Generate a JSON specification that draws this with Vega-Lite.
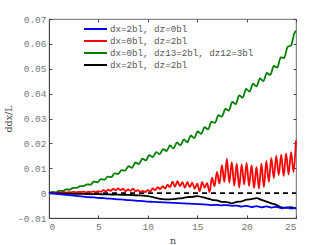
{
  "$schema": "https://vega.github.io/schema/vega-lite/v6.json",
  "width": 247,
  "height": 199,
  "autosize": {"type": "none"},
  "padding": {"left": 49, "top": 19, "right": 31, "bottom": 27},
  "background": "white",
  "config": {
    "view": {"stroke": "#444", "strokeWidth": 0.8},
    "axis": {
      "grid": false,
      "labelFont": "Liberation Mono",
      "labelFontSize": 9.5,
      "labelColor": "#777",
      "domainColor": "#444",
      "tickColor": "#444",
      "titleFont": "DejaVu Serif",
      "titleFontWeight": "normal",
      "titleFontSize": 9.5,
      "titleColor": "#444"
    }
  },
  "datasets": {
    "curves": [
      {"n": 0, "v": 0, "s": "dx=0bl, dz13=2bl, dz12=3bl"},
      {"n": 0.35, "v": 0.00046, "s": "dx=0bl, dz13=2bl, dz12=3bl"},
      {"n": 0.7, "v": 0.00033, "s": "dx=0bl, dz13=2bl, dz12=3bl"},
      {"n": 1.05, "v": 0.00099, "s": "dx=0bl, dz13=2bl, dz12=3bl"},
      {"n": 1.4, "v": 0.00085, "s": "dx=0bl, dz13=2bl, dz12=3bl"},
      {"n": 1.75, "v": 0.00151, "s": "dx=0bl, dz13=2bl, dz12=3bl"},
      {"n": 2.1, "v": 0.0014, "s": "dx=0bl, dz13=2bl, dz12=3bl"},
      {"n": 2.45, "v": 0.00215, "s": "dx=0bl, dz13=2bl, dz12=3bl"},
      {"n": 2.8, "v": 0.0021, "s": "dx=0bl, dz13=2bl, dz12=3bl"},
      {"n": 3.15, "v": 0.00285, "s": "dx=0bl, dz13=2bl, dz12=3bl"},
      {"n": 3.5, "v": 0.0028, "s": "dx=0bl, dz13=2bl, dz12=3bl"},
      {"n": 3.85, "v": 0.00355, "s": "dx=0bl, dz13=2bl, dz12=3bl"},
      {"n": 4.2, "v": 0.00338, "s": "dx=0bl, dz13=2bl, dz12=3bl"},
      {"n": 4.55, "v": 0.00467, "s": "dx=0bl, dz13=2bl, dz12=3bl"},
      {"n": 4.9, "v": 0.00436, "s": "dx=0bl, dz13=2bl, dz12=3bl"},
      {"n": 5.25, "v": 0.00565, "s": "dx=0bl, dz13=2bl, dz12=3bl"},
      {"n": 5.6, "v": 0.00534, "s": "dx=0bl, dz13=2bl, dz12=3bl"},
      {"n": 5.95, "v": 0.00663, "s": "dx=0bl, dz13=2bl, dz12=3bl"},
      {"n": 6.3, "v": 0.00646, "s": "dx=0bl, dz13=2bl, dz12=3bl"},
      {"n": 6.65, "v": 0.0079, "s": "dx=0bl, dz13=2bl, dz12=3bl"},
      {"n": 7.0, "v": 0.00775, "s": "dx=0bl, dz13=2bl, dz12=3bl"},
      {"n": 7.35, "v": 0.0092, "s": "dx=0bl, dz13=2bl, dz12=3bl"},
      {"n": 7.7, "v": 0.00905, "s": "dx=0bl, dz13=2bl, dz12=3bl"},
      {"n": 8.05, "v": 0.0108, "s": "dx=0bl, dz13=2bl, dz12=3bl"},
      {"n": 8.4, "v": 0.01016, "s": "dx=0bl, dz13=2bl, dz12=3bl"},
      {"n": 8.75, "v": 0.01231, "s": "dx=0bl, dz13=2bl, dz12=3bl"},
      {"n": 9.1, "v": 0.01167, "s": "dx=0bl, dz13=2bl, dz12=3bl"},
      {"n": 9.45, "v": 0.01382, "s": "dx=0bl, dz13=2bl, dz12=3bl"},
      {"n": 9.8, "v": 0.01317, "s": "dx=0bl, dz13=2bl, dz12=3bl"},
      {"n": 10.15, "v": 0.01526, "s": "dx=0bl, dz13=2bl, dz12=3bl"},
      {"n": 10.5, "v": 0.01448, "s": "dx=0bl, dz13=2bl, dz12=3bl"},
      {"n": 10.85, "v": 0.01649, "s": "dx=0bl, dz13=2bl, dz12=3bl"},
      {"n": 11.2, "v": 0.0157, "s": "dx=0bl, dz13=2bl, dz12=3bl"},
      {"n": 11.55, "v": 0.01771, "s": "dx=0bl, dz13=2bl, dz12=3bl"},
      {"n": 11.9, "v": 0.01693, "s": "dx=0bl, dz13=2bl, dz12=3bl"},
      {"n": 12.25, "v": 0.01914, "s": "dx=0bl, dz13=2bl, dz12=3bl"},
      {"n": 12.6, "v": 0.01795, "s": "dx=0bl, dz13=2bl, dz12=3bl"},
      {"n": 12.95, "v": 0.02036, "s": "dx=0bl, dz13=2bl, dz12=3bl"},
      {"n": 13.3, "v": 0.01918, "s": "dx=0bl, dz13=2bl, dz12=3bl"},
      {"n": 13.65, "v": 0.02159, "s": "dx=0bl, dz13=2bl, dz12=3bl"},
      {"n": 14.0, "v": 0.0204, "s": "dx=0bl, dz13=2bl, dz12=3bl"},
      {"n": 14.35, "v": 0.02306, "s": "dx=0bl, dz13=2bl, dz12=3bl"},
      {"n": 14.7, "v": 0.02212, "s": "dx=0bl, dz13=2bl, dz12=3bl"},
      {"n": 15.05, "v": 0.02477, "s": "dx=0bl, dz13=2bl, dz12=3bl"},
      {"n": 15.4, "v": 0.02383, "s": "dx=0bl, dz13=2bl, dz12=3bl"},
      {"n": 15.75, "v": 0.02649, "s": "dx=0bl, dz13=2bl, dz12=3bl"},
      {"n": 16.1, "v": 0.02567, "s": "dx=0bl, dz13=2bl, dz12=3bl"},
      {"n": 16.45, "v": 0.02874, "s": "dx=0bl, dz13=2bl, dz12=3bl"},
      {"n": 16.8, "v": 0.02822, "s": "dx=0bl, dz13=2bl, dz12=3bl"},
      {"n": 17.15, "v": 0.0313, "s": "dx=0bl, dz13=2bl, dz12=3bl"},
      {"n": 17.5, "v": 0.03077, "s": "dx=0bl, dz13=2bl, dz12=3bl"},
      {"n": 17.85, "v": 0.03385, "s": "dx=0bl, dz13=2bl, dz12=3bl"},
      {"n": 18.2, "v": 0.03315, "s": "dx=0bl, dz13=2bl, dz12=3bl"},
      {"n": 18.55, "v": 0.03666, "s": "dx=0bl, dz13=2bl, dz12=3bl"},
      {"n": 18.9, "v": 0.03578, "s": "dx=0bl, dz13=2bl, dz12=3bl"},
      {"n": 19.25, "v": 0.03929, "s": "dx=0bl, dz13=2bl, dz12=3bl"},
      {"n": 19.6, "v": 0.0384, "s": "dx=0bl, dz13=2bl, dz12=3bl"},
      {"n": 19.95, "v": 0.04191, "s": "dx=0bl, dz13=2bl, dz12=3bl"},
      {"n": 20.3, "v": 0.0408, "s": "dx=0bl, dz13=2bl, dz12=3bl"},
      {"n": 20.65, "v": 0.04405, "s": "dx=0bl, dz13=2bl, dz12=3bl"},
      {"n": 21.0, "v": 0.0429, "s": "dx=0bl, dz13=2bl, dz12=3bl"},
      {"n": 21.35, "v": 0.04615, "s": "dx=0bl, dz13=2bl, dz12=3bl"},
      {"n": 21.7, "v": 0.045, "s": "dx=0bl, dz13=2bl, dz12=3bl"},
      {"n": 22.05, "v": 0.0483, "s": "dx=0bl, dz13=2bl, dz12=3bl"},
      {"n": 22.4, "v": 0.0475, "s": "dx=0bl, dz13=2bl, dz12=3bl"},
      {"n": 22.75, "v": 0.0511, "s": "dx=0bl, dz13=2bl, dz12=3bl"},
      {"n": 23.1, "v": 0.05045, "s": "dx=0bl, dz13=2bl, dz12=3bl"},
      {"n": 23.45, "v": 0.05458, "s": "dx=0bl, dz13=2bl, dz12=3bl"},
      {"n": 23.8, "v": 0.0543, "s": "dx=0bl, dz13=2bl, dz12=3bl"},
      {"n": 24.15, "v": 0.0588, "s": "dx=0bl, dz13=2bl, dz12=3bl"},
      {"n": 24.5, "v": 0.0594, "s": "dx=0bl, dz13=2bl, dz12=3bl"},
      {"n": 24.85, "v": 0.0644, "s": "dx=0bl, dz13=2bl, dz12=3bl"},
      {"n": 25.0, "v": 0.0652, "s": "dx=0bl, dz13=2bl, dz12=3bl"},

      {"n": 0, "v": 0, "s": "dx=0bl, dz=2bl"},
      {"n": 0.25, "v": 0.0001, "s": "dx=0bl, dz=2bl"},
      {"n": 0.5, "v": 0.0002, "s": "dx=0bl, dz=2bl"},
      {"n": 0.75, "v": 0.0001, "s": "dx=0bl, dz=2bl"},
      {"n": 1, "v": 0.0003, "s": "dx=0bl, dz=2bl"},
      {"n": 1.25, "v": 0.0002, "s": "dx=0bl, dz=2bl"},
      {"n": 1.5, "v": 0.0004, "s": "dx=0bl, dz=2bl"},
      {"n": 1.75, "v": 0.0002, "s": "dx=0bl, dz=2bl"},
      {"n": 2, "v": 0.0004, "s": "dx=0bl, dz=2bl"},
      {"n": 2.25, "v": 0.0003, "s": "dx=0bl, dz=2bl"},
      {"n": 2.5, "v": 0.0005, "s": "dx=0bl, dz=2bl"},
      {"n": 2.75, "v": 0.0003, "s": "dx=0bl, dz=2bl"},
      {"n": 3, "v": 0.0005, "s": "dx=0bl, dz=2bl"},
      {"n": 3.25, "v": 0.0004, "s": "dx=0bl, dz=2bl"},
      {"n": 3.5, "v": 0.0006, "s": "dx=0bl, dz=2bl"},
      {"n": 3.75, "v": 0.0003, "s": "dx=0bl, dz=2bl"},
      {"n": 4, "v": 0.0006, "s": "dx=0bl, dz=2bl"},
      {"n": 4.25, "v": 0.0004, "s": "dx=0bl, dz=2bl"},
      {"n": 4.5, "v": 0.0007, "s": "dx=0bl, dz=2bl"},
      {"n": 4.75, "v": 0.0004, "s": "dx=0bl, dz=2bl"},
      {"n": 5, "v": 0.0008, "s": "dx=0bl, dz=2bl"},
      {"n": 5.25, "v": 0.0005, "s": "dx=0bl, dz=2bl"},
      {"n": 5.5, "v": 0.0012, "s": "dx=0bl, dz=2bl"},
      {"n": 5.75, "v": 0.0007, "s": "dx=0bl, dz=2bl"},
      {"n": 6, "v": 0.0014, "s": "dx=0bl, dz=2bl"},
      {"n": 6.25, "v": 0.0009, "s": "dx=0bl, dz=2bl"},
      {"n": 6.5, "v": 0.0017, "s": "dx=0bl, dz=2bl"},
      {"n": 6.75, "v": 0.0011, "s": "dx=0bl, dz=2bl"},
      {"n": 7, "v": 0.0019, "s": "dx=0bl, dz=2bl"},
      {"n": 7.25, "v": 0.0012, "s": "dx=0bl, dz=2bl"},
      {"n": 7.5, "v": 0.0018, "s": "dx=0bl, dz=2bl"},
      {"n": 7.75, "v": 0.0008, "s": "dx=0bl, dz=2bl"},
      {"n": 8, "v": 0.0015, "s": "dx=0bl, dz=2bl"},
      {"n": 8.25, "v": 0.0009, "s": "dx=0bl, dz=2bl"},
      {"n": 8.5, "v": 0.0018, "s": "dx=0bl, dz=2bl"},
      {"n": 8.75, "v": 0.0007, "s": "dx=0bl, dz=2bl"},
      {"n": 9, "v": 0.0012, "s": "dx=0bl, dz=2bl"},
      {"n": 9.25, "v": 0.0005, "s": "dx=0bl, dz=2bl"},
      {"n": 9.5, "v": 0.0009, "s": "dx=0bl, dz=2bl"},
      {"n": 9.75, "v": 0.0004, "s": "dx=0bl, dz=2bl"},
      {"n": 10, "v": 0.0012, "s": "dx=0bl, dz=2bl"},
      {"n": 10.25, "v": 0.0006, "s": "dx=0bl, dz=2bl"},
      {"n": 10.5, "v": 0.0019, "s": "dx=0bl, dz=2bl"},
      {"n": 10.75, "v": 0.0012, "s": "dx=0bl, dz=2bl"},
      {"n": 11, "v": 0.0024, "s": "dx=0bl, dz=2bl"},
      {"n": 11.25, "v": 0.0016, "s": "dx=0bl, dz=2bl"},
      {"n": 11.5, "v": 0.0027, "s": "dx=0bl, dz=2bl"},
      {"n": 11.75, "v": 0.0018, "s": "dx=0bl, dz=2bl"},
      {"n": 12, "v": 0.0034, "s": "dx=0bl, dz=2bl"},
      {"n": 12.25, "v": 0.0024, "s": "dx=0bl, dz=2bl"},
      {"n": 12.5, "v": 0.0046, "s": "dx=0bl, dz=2bl"},
      {"n": 12.75, "v": 0.0026, "s": "dx=0bl, dz=2bl"},
      {"n": 13, "v": 0.0048, "s": "dx=0bl, dz=2bl"},
      {"n": 13.25, "v": 0.0028, "s": "dx=0bl, dz=2bl"},
      {"n": 13.5, "v": 0.0044, "s": "dx=0bl, dz=2bl"},
      {"n": 13.75, "v": 0.0022, "s": "dx=0bl, dz=2bl"},
      {"n": 14, "v": 0.0045, "s": "dx=0bl, dz=2bl"},
      {"n": 14.25, "v": 0.0024, "s": "dx=0bl, dz=2bl"},
      {"n": 14.5, "v": 0.0042, "s": "dx=0bl, dz=2bl"},
      {"n": 14.75, "v": 0.0018, "s": "dx=0bl, dz=2bl"},
      {"n": 15, "v": 0.0038, "s": "dx=0bl, dz=2bl"},
      {"n": 15.25, "v": 0.0007, "s": "dx=0bl, dz=2bl"},
      {"n": 15.5, "v": 0.0045, "s": "dx=0bl, dz=2bl"},
      {"n": 15.75, "v": 0.0022, "s": "dx=0bl, dz=2bl"},
      {"n": 16, "v": 0.004, "s": "dx=0bl, dz=2bl"},
      {"n": 16.25, "v": 0.0004, "s": "dx=0bl, dz=2bl"},
      {"n": 16.5, "v": 0.0062, "s": "dx=0bl, dz=2bl"},
      {"n": 16.75, "v": 0.0028, "s": "dx=0bl, dz=2bl"},
      {"n": 17, "v": 0.0085, "s": "dx=0bl, dz=2bl"},
      {"n": 17.25, "v": 0.0038, "s": "dx=0bl, dz=2bl"},
      {"n": 17.5, "v": 0.0112, "s": "dx=0bl, dz=2bl"},
      {"n": 17.75, "v": 0.0045, "s": "dx=0bl, dz=2bl"},
      {"n": 18, "v": 0.0138, "s": "dx=0bl, dz=2bl"},
      {"n": 18.25, "v": 0.0042, "s": "dx=0bl, dz=2bl"},
      {"n": 18.5, "v": 0.0125, "s": "dx=0bl, dz=2bl"},
      {"n": 18.75, "v": 0.003, "s": "dx=0bl, dz=2bl"},
      {"n": 19, "v": 0.0118, "s": "dx=0bl, dz=2bl"},
      {"n": 19.25, "v": 0.0022, "s": "dx=0bl, dz=2bl"},
      {"n": 19.5, "v": 0.0115, "s": "dx=0bl, dz=2bl"},
      {"n": 19.75, "v": 0.0035, "s": "dx=0bl, dz=2bl"},
      {"n": 20, "v": 0.0122, "s": "dx=0bl, dz=2bl"},
      {"n": 20.25, "v": 0.0028, "s": "dx=0bl, dz=2bl"},
      {"n": 20.5, "v": 0.0112, "s": "dx=0bl, dz=2bl"},
      {"n": 20.75, "v": 0.002, "s": "dx=0bl, dz=2bl"},
      {"n": 21, "v": 0.0105, "s": "dx=0bl, dz=2bl"},
      {"n": 21.25, "v": 0.0018, "s": "dx=0bl, dz=2bl"},
      {"n": 21.5, "v": 0.0118, "s": "dx=0bl, dz=2bl"},
      {"n": 21.75, "v": 0.0024, "s": "dx=0bl, dz=2bl"},
      {"n": 22, "v": 0.013, "s": "dx=0bl, dz=2bl"},
      {"n": 22.25, "v": 0.0045, "s": "dx=0bl, dz=2bl"},
      {"n": 22.5, "v": 0.0142, "s": "dx=0bl, dz=2bl"},
      {"n": 22.75, "v": 0.006, "s": "dx=0bl, dz=2bl"},
      {"n": 23, "v": 0.015, "s": "dx=0bl, dz=2bl"},
      {"n": 23.25, "v": 0.0072, "s": "dx=0bl, dz=2bl"},
      {"n": 23.5, "v": 0.0155, "s": "dx=0bl, dz=2bl"},
      {"n": 23.75, "v": 0.0068, "s": "dx=0bl, dz=2bl"},
      {"n": 24, "v": 0.016, "s": "dx=0bl, dz=2bl"},
      {"n": 24.25, "v": 0.0075, "s": "dx=0bl, dz=2bl"},
      {"n": 24.5, "v": 0.0165, "s": "dx=0bl, dz=2bl"},
      {"n": 24.75, "v": 0.0085, "s": "dx=0bl, dz=2bl"},
      {"n": 25, "v": 0.0212, "s": "dx=0bl, dz=2bl"},

      {"n": 0, "v": 0, "s": "dx=2bl, dz=2bl"},
      {"n": 0.5, "v": -0.0001, "s": "dx=2bl, dz=2bl"},
      {"n": 1, "v": -0.0001, "s": "dx=2bl, dz=2bl"},
      {"n": 1.5, "v": -0.0002, "s": "dx=2bl, dz=2bl"},
      {"n": 2, "v": -0.0002, "s": "dx=2bl, dz=2bl"},
      {"n": 2.5, "v": -0.0003, "s": "dx=2bl, dz=2bl"},
      {"n": 3, "v": -0.0003, "s": "dx=2bl, dz=2bl"},
      {"n": 3.5, "v": -0.0003, "s": "dx=2bl, dz=2bl"},
      {"n": 4, "v": -0.0004, "s": "dx=2bl, dz=2bl"},
      {"n": 4.5, "v": -0.0004, "s": "dx=2bl, dz=2bl"},
      {"n": 5, "v": -0.0004, "s": "dx=2bl, dz=2bl"},
      {"n": 5.5, "v": -0.0005, "s": "dx=2bl, dz=2bl"},
      {"n": 6, "v": -0.0005, "s": "dx=2bl, dz=2bl"},
      {"n": 6.5, "v": -0.0006, "s": "dx=2bl, dz=2bl"},
      {"n": 7, "v": -0.0006, "s": "dx=2bl, dz=2bl"},
      {"n": 7.5, "v": -0.0007, "s": "dx=2bl, dz=2bl"},
      {"n": 8, "v": -0.0007, "s": "dx=2bl, dz=2bl"},
      {"n": 8.5, "v": -0.0008, "s": "dx=2bl, dz=2bl"},
      {"n": 9, "v": -0.0009, "s": "dx=2bl, dz=2bl"},
      {"n": 9.5, "v": -0.001, "s": "dx=2bl, dz=2bl"},
      {"n": 10, "v": -0.0012, "s": "dx=2bl, dz=2bl"},
      {"n": 10.5, "v": -0.0016, "s": "dx=2bl, dz=2bl"},
      {"n": 11, "v": -0.0021, "s": "dx=2bl, dz=2bl"},
      {"n": 11.5, "v": -0.0024, "s": "dx=2bl, dz=2bl"},
      {"n": 12, "v": -0.0025, "s": "dx=2bl, dz=2bl"},
      {"n": 12.5, "v": -0.0024, "s": "dx=2bl, dz=2bl"},
      {"n": 13, "v": -0.0022, "s": "dx=2bl, dz=2bl"},
      {"n": 13.5, "v": -0.002, "s": "dx=2bl, dz=2bl"},
      {"n": 14, "v": -0.0016, "s": "dx=2bl, dz=2bl"},
      {"n": 14.5, "v": -0.0015, "s": "dx=2bl, dz=2bl"},
      {"n": 15, "v": -0.0012, "s": "dx=2bl, dz=2bl"},
      {"n": 15.5, "v": -0.0016, "s": "dx=2bl, dz=2bl"},
      {"n": 16, "v": -0.0021, "s": "dx=2bl, dz=2bl"},
      {"n": 16.5, "v": -0.0027, "s": "dx=2bl, dz=2bl"},
      {"n": 17, "v": -0.0029, "s": "dx=2bl, dz=2bl"},
      {"n": 17.5, "v": -0.0035, "s": "dx=2bl, dz=2bl"},
      {"n": 18, "v": -0.0036, "s": "dx=2bl, dz=2bl"},
      {"n": 18.5, "v": -0.0041, "s": "dx=2bl, dz=2bl"},
      {"n": 19, "v": -0.0035, "s": "dx=2bl, dz=2bl"},
      {"n": 19.5, "v": -0.0033, "s": "dx=2bl, dz=2bl"},
      {"n": 20, "v": -0.0026, "s": "dx=2bl, dz=2bl"},
      {"n": 20.5, "v": -0.0024, "s": "dx=2bl, dz=2bl"},
      {"n": 21, "v": -0.002, "s": "dx=2bl, dz=2bl"},
      {"n": 21.5, "v": -0.0027, "s": "dx=2bl, dz=2bl"},
      {"n": 22, "v": -0.0034, "s": "dx=2bl, dz=2bl"},
      {"n": 22.5, "v": -0.0041, "s": "dx=2bl, dz=2bl"},
      {"n": 23, "v": -0.0047, "s": "dx=2bl, dz=2bl"},
      {"n": 23.5, "v": -0.0057, "s": "dx=2bl, dz=2bl"},
      {"n": 24, "v": -0.0059, "s": "dx=2bl, dz=2bl"},
      {"n": 24.5, "v": -0.0056, "s": "dx=2bl, dz=2bl"},
      {"n": 25, "v": -0.0063, "s": "dx=2bl, dz=2bl"},

      {"n": 0, "v": 0, "s": "dx=2bl, dz=0bl"},
      {"n": 0.5, "v": -0.0002, "s": "dx=2bl, dz=0bl"},
      {"n": 1, "v": -0.0004, "s": "dx=2bl, dz=0bl"},
      {"n": 1.5, "v": -0.0006, "s": "dx=2bl, dz=0bl"},
      {"n": 2, "v": -0.0008, "s": "dx=2bl, dz=0bl"},
      {"n": 2.5, "v": -0.001, "s": "dx=2bl, dz=0bl"},
      {"n": 3, "v": -0.0012, "s": "dx=2bl, dz=0bl"},
      {"n": 3.5, "v": -0.0014, "s": "dx=2bl, dz=0bl"},
      {"n": 4, "v": -0.0016, "s": "dx=2bl, dz=0bl"},
      {"n": 4.5, "v": -0.0017, "s": "dx=2bl, dz=0bl"},
      {"n": 5, "v": -0.0019, "s": "dx=2bl, dz=0bl"},
      {"n": 5.5, "v": -0.002, "s": "dx=2bl, dz=0bl"},
      {"n": 6, "v": -0.0022, "s": "dx=2bl, dz=0bl"},
      {"n": 6.5, "v": -0.0023, "s": "dx=2bl, dz=0bl"},
      {"n": 7, "v": -0.0025, "s": "dx=2bl, dz=0bl"},
      {"n": 7.5, "v": -0.0026, "s": "dx=2bl, dz=0bl"},
      {"n": 8, "v": -0.0028, "s": "dx=2bl, dz=0bl"},
      {"n": 8.5, "v": -0.0029, "s": "dx=2bl, dz=0bl"},
      {"n": 9, "v": -0.0031, "s": "dx=2bl, dz=0bl"},
      {"n": 9.5, "v": -0.0032, "s": "dx=2bl, dz=0bl"},
      {"n": 10, "v": -0.0034, "s": "dx=2bl, dz=0bl"},
      {"n": 10.5, "v": -0.0035, "s": "dx=2bl, dz=0bl"},
      {"n": 11, "v": -0.0036, "s": "dx=2bl, dz=0bl"},
      {"n": 11.5, "v": -0.0037, "s": "dx=2bl, dz=0bl"},
      {"n": 12, "v": -0.0038, "s": "dx=2bl, dz=0bl"},
      {"n": 12.5, "v": -0.0039, "s": "dx=2bl, dz=0bl"},
      {"n": 13, "v": -0.004, "s": "dx=2bl, dz=0bl"},
      {"n": 13.5, "v": -0.0041, "s": "dx=2bl, dz=0bl"},
      {"n": 14, "v": -0.0042, "s": "dx=2bl, dz=0bl"},
      {"n": 14.5, "v": -0.0043, "s": "dx=2bl, dz=0bl"},
      {"n": 15, "v": -0.0044, "s": "dx=2bl, dz=0bl"},
      {"n": 15.5, "v": -0.0045, "s": "dx=2bl, dz=0bl"},
      {"n": 16, "v": -0.0046, "s": "dx=2bl, dz=0bl"},
      {"n": 16.5, "v": -0.0048, "s": "dx=2bl, dz=0bl"},
      {"n": 17, "v": -0.0047, "s": "dx=2bl, dz=0bl"},
      {"n": 17.5, "v": -0.0049, "s": "dx=2bl, dz=0bl"},
      {"n": 18, "v": -0.0048, "s": "dx=2bl, dz=0bl"},
      {"n": 18.5, "v": -0.0051, "s": "dx=2bl, dz=0bl"},
      {"n": 19, "v": -0.005, "s": "dx=2bl, dz=0bl"},
      {"n": 19.5, "v": -0.0054, "s": "dx=2bl, dz=0bl"},
      {"n": 20, "v": -0.0051, "s": "dx=2bl, dz=0bl"},
      {"n": 20.5, "v": -0.0056, "s": "dx=2bl, dz=0bl"},
      {"n": 21, "v": -0.0052, "s": "dx=2bl, dz=0bl"},
      {"n": 21.5, "v": -0.0057, "s": "dx=2bl, dz=0bl"},
      {"n": 22, "v": -0.0053, "s": "dx=2bl, dz=0bl"},
      {"n": 22.5, "v": -0.0058, "s": "dx=2bl, dz=0bl"},
      {"n": 23, "v": -0.0055, "s": "dx=2bl, dz=0bl"},
      {"n": 23.5, "v": -0.0061, "s": "dx=2bl, dz=0bl"},
      {"n": 24, "v": -0.0057, "s": "dx=2bl, dz=0bl"},
      {"n": 24.5, "v": -0.0062, "s": "dx=2bl, dz=0bl"},
      {"n": 25, "v": -0.0058, "s": "dx=2bl, dz=0bl"}
    ],
    "zero": [{"n": 0, "v": 0}, {"n": 25, "v": 0}]
  },
  "layer": [
    {
      "data": {"name": "zero"},
      "mark": {"type": "line", "color": "black", "strokeDash": [5, 4], "strokeWidth": 1.6},
      "encoding": {
        "x": {"field": "n", "type": "quantitative", "scale": {"domain": [0, 25], "nice": false},
          "axis": {"orient": "top", "labels": false, "title": null, "values": [0, 5, 10, 15, 20, 25], "tickSize": -3, "domain": false}},
        "y": {"field": "v", "type": "quantitative", "scale": {"domain": [-0.01, 0.07], "nice": false},
          "axis": {"orient": "right", "labels": false, "title": null, "values": [-0.01, 0, 0.01, 0.02, 0.03, 0.04, 0.05, 0.06, 0.07], "tickSize": -3, "domain": false}}
      }
    },
    {
      "data": {"name": "curves"},
      "mark": {"type": "line", "strokeWidth": 1.8, "interpolate": "monotone"},
      "encoding": {
        "x": {"field": "n", "type": "quantitative",
          "axis": {"orient": "bottom", "title": "n", "values": [0, 5, 10, 15, 20, 25], "tickSize": -3, "labelPadding": 6, "titlePadding": 5}},
        "y": {"field": "v", "type": "quantitative",
          "axis": {"orient": "left", "title": "ddx/L", "values": [-0.01, 0, 0.01, 0.02, 0.03, 0.04, 0.05, 0.06, 0.07], "tickSize": -3, "labelPadding": 6, "titlePadding": 4,
            "labelExpr": "datum.value == 0 ? '0' : replace(format(datum.value, '.2f'), '\u2212', '-')"}},
        "color": {"field": "s", "type": "nominal",
          "scale": {"domain": ["dx=2bl, dz=0bl", "dx=0bl, dz=2bl", "dx=0bl, dz13=2bl, dz12=3bl", "dx=2bl, dz=2bl"],
                    "range": ["#0000ff", "#ff0000", "#008000", "#000000"]},
          "legend": {"orient": "none", "legendX": 40.5, "legendY": 4, "title": null, "symbolType": "M-2.3,0H2.3", "symbolSize": 100, "symbolStrokeWidth": 2, "symbolFillColor": "transparent",
            "labelFont": "Liberation Mono", "labelFontSize": 9.2, "labelColor": "#555", "rowPadding": -2, "labelOffset": 8.5, "symbolOffset": 0, "padding": 0}},
        "order": {"field": "s"}
      }
    }
  ],
  "resolve": {"axis": {"x": "independent", "y": "independent"}}
}
